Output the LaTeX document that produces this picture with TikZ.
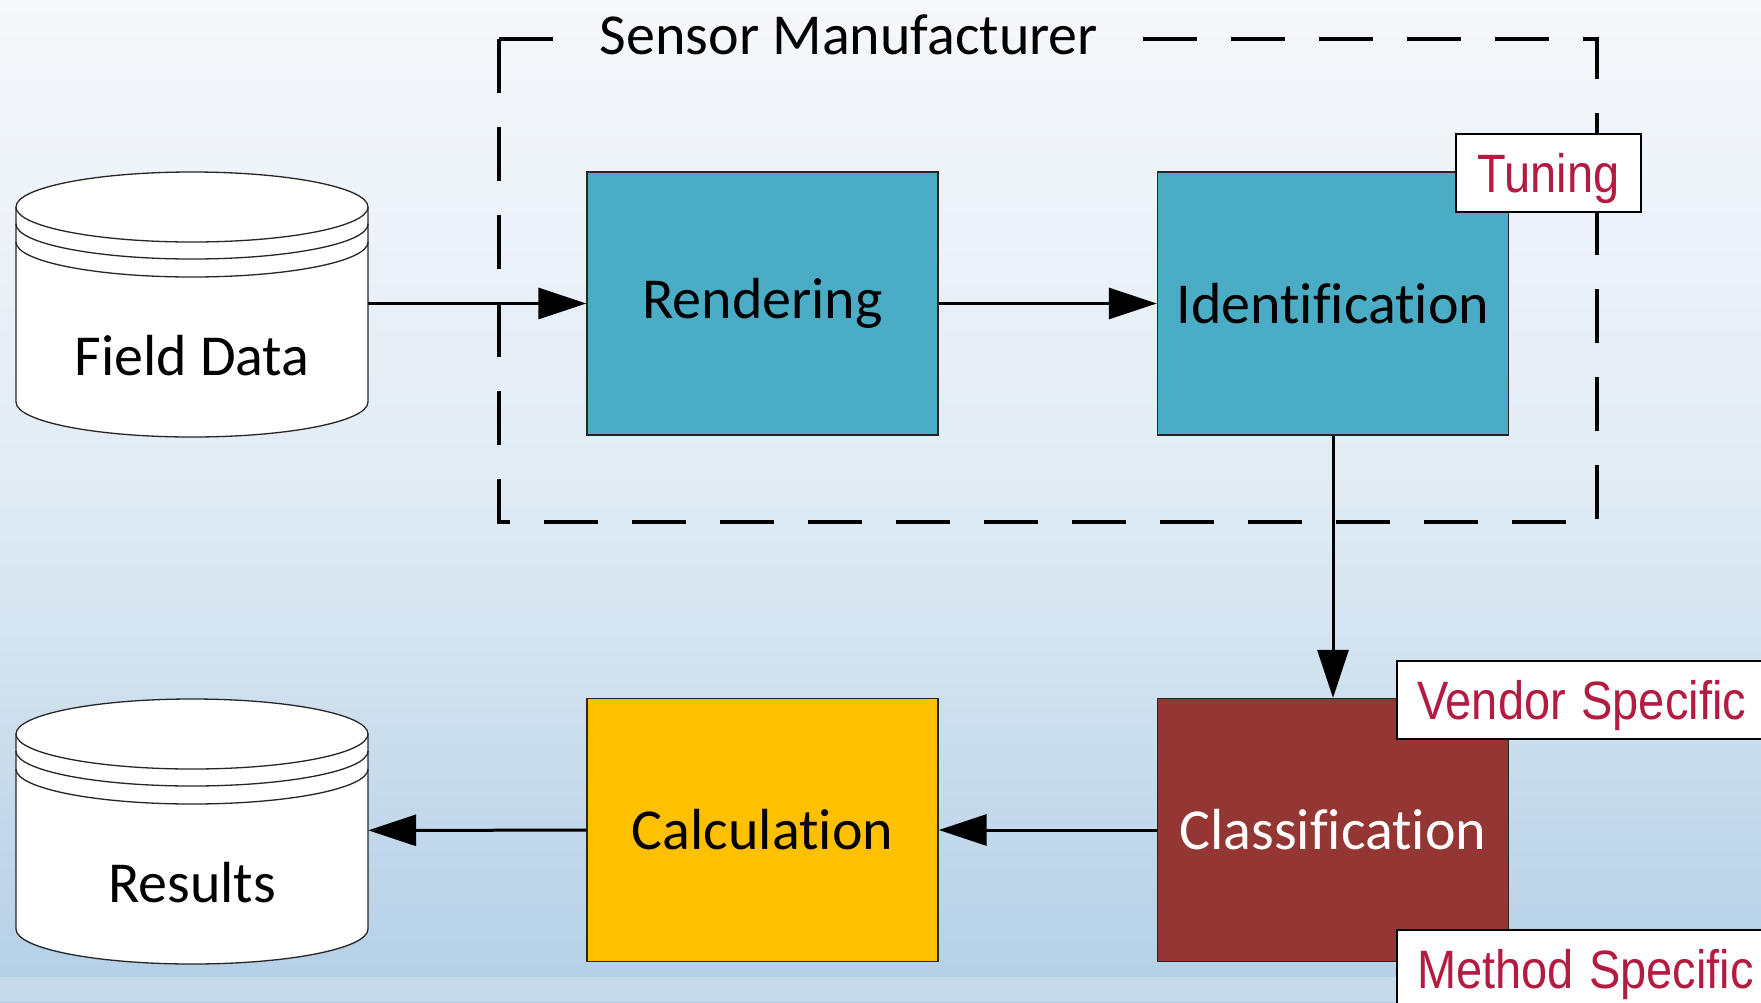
\documentclass[tikz,border=0pt]{standalone}
\usepackage{fontspec}
\usepackage{graphicx}
\setmainfont{Carlito}[Ligatures=NoCommon]
\newfontfamily\tagfont{Liberation Sans}
\usetikzlibrary{arrows.meta}
\definecolor{boxteal}{HTML}{4BACC6}
\definecolor{boxbrown}{HTML}{943634}
\definecolor{boxyellow}{HTML}{FFC000}
\definecolor{tagred}{HTML}{B31B40}
\definecolor{bgtop}{HTML}{F6F8FB}
\definecolor{bgmid}{HTML}{E0EBF4}
\definecolor{bgbot}{HTML}{B3CFE6}
\definecolor{bgband}{HTML}{C6DAEA}
\newcommand\mycyl[1]{%
  \fill[white] (16,#1) -- (16,{#1+195}) arc[start angle=180,end angle=360,x radius=176pt,y radius=35pt] -- (368,#1) -- cycle;
  \draw[cylline] (16,#1) -- (16,{#1+195}) arc[start angle=180,end angle=360,x radius=176pt,y radius=35pt] -- (368,#1);
  \draw[cylline,fill=white] (192,#1) ellipse[x radius=176pt,y radius=35pt];
  \draw[cylline] (16,{#1+17}) arc[start angle=180,end angle=360,x radius=176pt,y radius=35pt];
  \draw[cylline] (16,{#1+35}) arc[start angle=180,end angle=360,x radius=176pt,y radius=35pt];
}
\begin{document}
\begin{tikzpicture}[x=1pt,y=-1pt,
  cylline/.style={line width=1.3pt, draw=black!85},
  proc/.style={draw=black!85, line width=1.3pt, minimum width=351pt, minimum height=263pt, inner sep=0pt, font=\fontsize{58}{70}\selectfont},
  lbl/.style={inner sep=0pt, font=\fontsize{58}{70}\selectfont},
  conn/.style={line width=3pt, -{Triangle[length=48pt,width=31pt]}},
  tag/.style={draw=black, line width=2pt, fill=white, text=tagred, inner xsep=20pt, inner ysep=0pt, text height=39pt, text depth=0pt, minimum height=78pt, font=\tagfont\fontsize{54}{60}\selectfont},
  frame/.style={line width=3.5pt, dash pattern=on 54pt off 34pt}]
\path[use as bounding box, clip] (0,0) rectangle (1761,1002);
\shade[top color=bgtop, bottom color=bgbot, middle color=bgmid] (0,0) rectangle (1761,1002);
\fill[bgband] (0,977) rectangle (1761,1002);

% title and frame
\coordinate (topy) at (0,39);
\node[lbl, anchor=base, inner xsep=45pt] (title) at (849,54) {Sensor Manufacturer};
\coordinate (ftl) at (499,39);
\coordinate (fbr) at (1597,522);
\draw[frame] (ftl) -- (ftl |- fbr) -- (fbr) -- (fbr |- ftl) -- (title.east |- topy);
\draw[frame] (ftl) -- (title.west |- topy);

% cylinders
\mycyl{207}
\mycyl{734}
\node[minimum width=352pt, minimum height=263pt, inner sep=0pt] (fd) at (192,303.5) {};
\node[lbl] (fdtext) at (192,356) {Field Data};
\node[minimum width=352pt, minimum height=263pt, inner sep=0pt] (res) at (192,830.5) {};
\node[lbl] (restext) at (192,883) {Results};

% process boxes
\node[proc, fill=boxteal] (rend) at (762.5,303.5) {Rendering};
\node[proc, fill=boxteal] (ident) at (1333,303.5) {Identification};
\node[proc, fill=boxbrown, text=white] (class) at (1333,830) {Classification};
\node[proc, fill=boxyellow] (calc) at (762.5,830) {Calculation};

% connectors
\draw[conn] (fd) -- (rend);
\draw[conn] (rend) -- (ident);
\draw[conn] (ident) -- (class);
\draw[conn] (class) -- (calc);
\draw[conn] (calc) -- (res);

% tags
\node[tag, minimum width=185pt, inner xsep=0pt] (tuning) at (1548.5,173) {\scalebox{0.87}[1]{Tuning}};
\node[tag, anchor=north west, text width=380pt, align=left] (vendor) at (1396,660) {\scalebox{0.87}[1]{Vendor Specific}};
\node[tag, anchor=north west, text width=380pt, align=left] (method) at (1396,929) {\scalebox{0.87}[1]{Method Specific}};
\end{tikzpicture}
\end{document}
